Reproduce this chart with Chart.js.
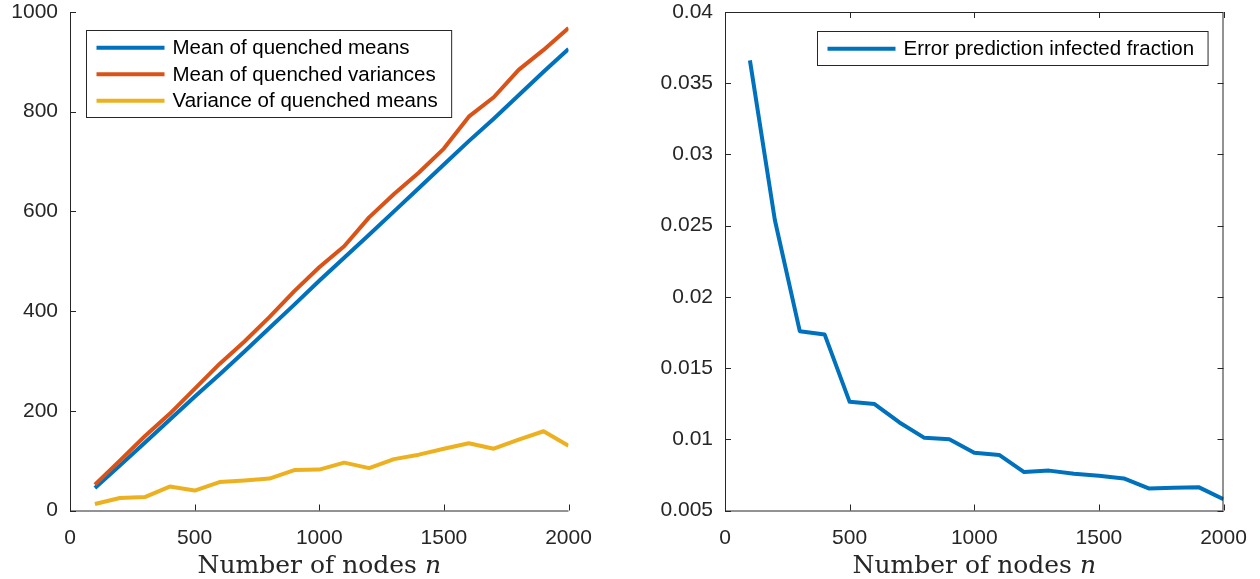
<!DOCTYPE html>
<html>
<head>
<meta charset="utf-8">
<script src="https://cdn.jsdelivr.net/npm/chart.js@4.4.1/dist/chart.umd.min.js"></script>
<style>
  html, body { margin: 0; padding: 0; background: #fff; }
  body { width: 1260px; height: 579px; position: relative; overflow: hidden; }
  .panel { position: absolute; top: 0; height: 579px; }
  #leftWrap { left: 0; width: 640px; }
  #rightWrap { left: 640px; width: 620px; }
  canvas { display: block; }
</style>
</head>
<body>
<div class="panel" id="leftWrap"><canvas id="chartLeft" width="640" height="579"></canvas></div>
<div class="panel" id="rightWrap"><canvas id="chartRight" width="620" height="579"></canvas></div>
<script>
// data
const nodes = [100, 200, 300, 400, 500, 600, 700, 800, 900, 1000,
               1100, 1200, 1300, 1400, 1500, 1600, 1700, 1800, 1900, 2000];

const meanOfMeans = [45, 90, 136, 182, 228, 273, 319, 366, 413, 461,
                     507, 553, 600, 647, 694, 741, 786, 833, 880, 926];
const meanOfVariances = [52, 100, 149, 194, 244, 294, 339, 388, 440, 488,
                         530, 588, 635, 678, 726, 790, 829, 884, 924, 968];
const varianceOfMeans = [13, 25, 27, 48, 40, 57, 60, 64, 81, 82,
                         96, 85, 103, 112, 124, 135, 124, 142, 159, 130];

const errorFraction = [0.0366, 0.0254, 0.01759, 0.01735, 0.01263, 0.01247, 0.01118, 0.0101, 0.01, 0.00906,
                       0.0089, 0.0077, 0.0078, 0.00758, 0.00744, 0.00725, 0.00655, 0.0066, 0.00664, 0.0058];

const xTicks = [0, 500, 1000, 1500, 2000];
const yTicksLeft = [0, 200, 400, 600, 800, 1000];
const yTicksRight = [0.005, 0.01, 0.015, 0.02, 0.025, 0.03, 0.035, 0.04];

const labelsLeft = ['Mean of quenched means', 'Mean of quenched variances', 'Variance of quenched means'];
const labelsRight = ['Error prediction infected fraction'];

const C_BLUE = '#0072BD', C_ORANGE = '#D95319', C_YELLOW = '#EDB120';
const AXIS = '#262626';
const SANS = '"Liberation Sans", Arial, Helvetica, sans-serif';
const SERIF = '"DejaVu Serif", "Liberation Serif", serif';

const pts = (ys) => nodes.map((n, i) => ({ x: n, y: ys[i] }));
const fixTicks = (arr) => (scale) => { scale.ticks = arr.map(v => ({ value: v })); };

/* === plugins === */
// matlab-ish axes: inward ticks, optional full box
const axesBox = {
  id: 'axesBox',
  afterDraw(chart, args, o) {
    const { ctx, chartArea: a, scales } = chart;
    const L = 6;
    ctx.save();
    ctx.strokeStyle = AXIS;
    ctx.lineWidth = 1;
    ctx.beginPath();
    ctx.moveTo(a.left + 0.5, a.top); ctx.lineTo(a.left + 0.5, a.bottom + 0.5);
    ctx.lineTo(a.right, a.bottom + 0.5);
    if (o.box) {
      ctx.moveTo(a.left, a.top + 0.5); ctx.lineTo(a.right - 0.5, a.top + 0.5);
      ctx.lineTo(a.right - 0.5, a.bottom);
    }
    for (const t of scales.x.ticks) {
      const px = Math.round(scales.x.getPixelForValue(t.value)) + 0.5;
      ctx.moveTo(px, a.bottom); ctx.lineTo(px, a.bottom - L);
      if (o.box) { ctx.moveTo(px, a.top); ctx.lineTo(px, a.top + L); }
    }
    for (const t of scales.y.ticks) {
      const py = Math.round(scales.y.getPixelForValue(t.value)) + 0.5;
      ctx.moveTo(a.left, py); ctx.lineTo(a.left + L, py);
      if (o.box) { ctx.moveTo(a.right, py); ctx.lineTo(a.right - L, py); }
    }
    ctx.stroke();
    ctx.restore();
  }
};

// x axis title with italic n
const xTitle = {
  id: 'xTitle',
  afterDraw(chart) {
    const { ctx, chartArea: a } = chart;
    const main = 'Number of nodes ', it = 'n';
    ctx.save();
    ctx.fillStyle = AXIS;
    ctx.textBaseline = 'alphabetic';
    ctx.font = `25px ${SERIF}`;
    const w1 = ctx.measureText(main).width;
    ctx.font = `italic 25px ${SERIF}`;
    const w2 = ctx.measureText(it).width;
    const x0 = (a.left + a.right) / 2 - (w1 + w2) / 2;
    ctx.font = `25px ${SERIF}`;
    ctx.fillText(main, x0, 573);
    ctx.font = `italic 25px ${SERIF}`;
    ctx.fillText(it, x0 + w1, 573);
    ctx.restore();
  }
};

// legend box inside the axes
const boxLegend = {
  id: 'boxLegend',
  afterDraw(chart, args, o) {
    const { ctx, chartArea: a } = chart;
    const sets = chart.data.datasets;
    ctx.save();
    ctx.font = `20.5px ${SANS}`;
    const tw = Math.max(...sets.map(d => ctx.measureText(d.label).width));
    const w = 86 + tw + 14;
    const h = 34 + 26.5 * (sets.length - 1);
    const x = Math.round(o.right ? a.right - o.dx - w : a.left + o.dx) + 0.5;
    const y = Math.round(a.top + o.dy) + 0.5;
    ctx.fillStyle = '#fff';
    ctx.fillRect(x, y, w, h);
    ctx.strokeStyle = AXIS;
    ctx.lineWidth = 1;
    ctx.strokeRect(x, y, w, h);
    sets.forEach((d, i) => {
      const ry = y + 17.3 + i * 26.5;
      ctx.beginPath();
      ctx.strokeStyle = d.borderColor;
      ctx.lineWidth = 4;
      ctx.moveTo(x + 10, ry); ctx.lineTo(x + 78, ry);
      ctx.stroke();
      ctx.fillStyle = '#000';
      ctx.textBaseline = 'middle';
      ctx.fillText(d.label, x + 86, ry + 1);
    });
    ctx.restore();
  }
};

/* === shared option builder === */
function makeOptions({ yMin, yMax, yTicks, pad, box, legend }) {
  return {
    responsive: false,
    animation: false,
    devicePixelRatio: 1,
    layout: { autoPadding: false, padding: { left: pad.left, right: pad.right, top: pad.top, bottom: pad.bottom } },
    elements: { point: { radius: 0 }, line: { tension: 0, borderWidth: 4, borderJoinStyle: 'round' } },
    scales: {
      x: {
        type: 'linear', min: 0, max: 2000,
        afterBuildTicks: fixTicks(xTicks),
        afterFit: (s) => { s.height = 579 - 510.5; s.paddingLeft = 0; s.paddingRight = 0; },
        grid: { display: false, drawTicks: false },
        border: { display: false },
        ticks: { color: AXIS, font: { family: SANS, size: 21, lineHeight: 1 }, padding: 17, maxRotation: 0,
                 callback: (v) => String(v) }
      },
      y: {
        type: 'linear', min: yMin, max: yMax,
        afterBuildTicks: fixTicks(yTicks),
        // tick padding would otherwise push the plot top down
        afterFit: (s) => { s.width = pad.yw; s.paddingTop = 0; s.paddingBottom = 0; },
        grid: { display: false, drawTicks: false },
        border: { display: false },
        ticks: { color: AXIS, font: { family: SANS, size: 21, lineHeight: 1 }, padding: 12,
                 callback: (v) => String(v) }
      }
    },
    plugins: {
      legend: { display: false },
      tooltip: { enabled: false },
      axesBox: { box },
      boxLegend: legend
    }
  };
}

/* === left panel === */
new Chart(document.getElementById('chartLeft'), {
  type: 'line',
  data: {
    datasets: [
      { label: labelsLeft[0], data: pts(meanOfMeans), borderColor: C_BLUE, order: 3 },
      { label: labelsLeft[1], data: pts(meanOfVariances), borderColor: C_ORANGE, order: 2 },
      { label: labelsLeft[2], data: pts(varianceOfMeans), borderColor: C_YELLOW, order: 1 }
    ]
  },
  options: makeOptions({
    yMin: 0, yMax: 1000, yTicks: yTicksLeft,
    pad: { left: 0, right: 640 - 568.5, top: 12, bottom: 0, yw: 70 },
    box: false,
    legend: { dx: 16, dy: 18, right: false }
  }),
  plugins: [axesBox, xTitle, boxLegend]
});

/* === right panel === */
new Chart(document.getElementById('chartRight'), {
  type: 'line',
  data: {
    datasets: [
      { label: labelsRight[0], data: pts(errorFraction), borderColor: C_BLUE }
    ]
  },
  options: makeOptions({
    yMin: 0.005, yMax: 0.04, yTicks: yTicksRight,
    pad: { left: 0, right: 620 - 583.5, top: 12, bottom: 0, yw: 85 },
    box: true,
    legend: { dx: 15.5, dy: 19, right: true }
  }),
  plugins: [axesBox, xTitle, boxLegend]
});
</script>
</body>
</html>
